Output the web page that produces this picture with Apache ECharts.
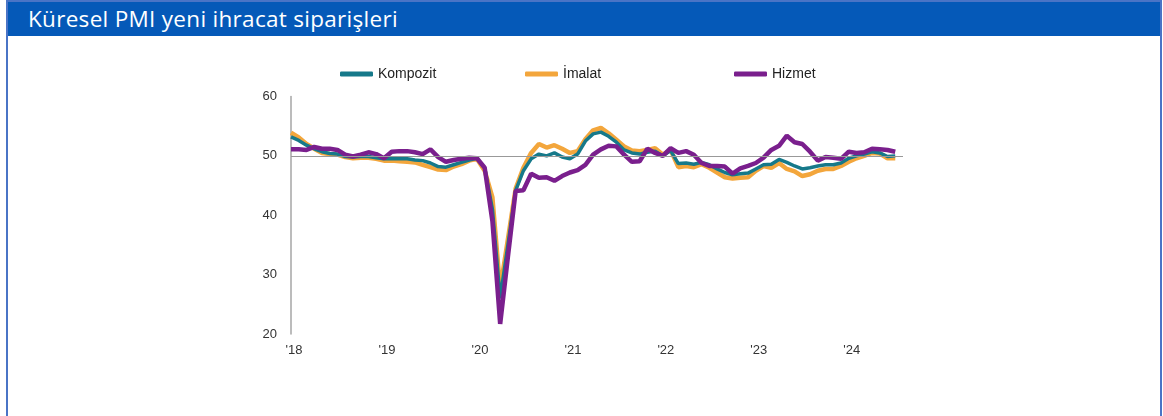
<!DOCTYPE html>
<html>
<head>
<meta charset="UTF-8">
<title>Küresel PMI yeni ihracat siparişleri</title>
<script src="https://cdn.jsdelivr.net/npm/echarts@6/dist/echarts.min.js"></script>
<style>
  body { margin: 0; background: #fff; }
  #frame { position: absolute; left: 6px; top: 0; width: 1152px; height: 430px;
           border: 2px solid #4a74c6; border-bottom: none; }
  #head { height: 34px; background: #0559b8; color: #fff; font-family: "Open Sans", "Noto Sans", sans-serif;
          font-size: 22.5px; letter-spacing: 0.3px; line-height: 34px; padding-left: 20px; }
  #view { position: absolute; left: 0; top: 0; width: 1163px; height: 416px; }
</style>
</head>
<body>
<div id="frame"><div id="head">Küresel PMI yeni ihracat siparişleri</div></div>
<div id="view"></div>
<script>
// aylar: Ocak 2018 - Temmuz 2024 (+ bir bos ay, 50 cizgisi icin)
var years = ['18', '19', '20', '21', '22', '23', '24'];
var months = [];
for (var y = 0; y < years.length; y++) {
    for (var m = 1; m <= 12; m++) months.push(years[y] + '-' + m);
}
months = months.slice(0, 80);

var kompozit = [
    53.2, 52.6, 51.8, 51.2, 50.7, 50.4, 50.3, 49.9, 49.8, 49.9, 49.9, 49.7,
    49.5, 49.5, 49.5, 49.5, 49.3, 49.2, 48.8, 48.2, 48.1, 48.5, 48.9, 49.3,
    49.6, 48.0, 41.0, 26.0, 35.0, 44.2, 47.5, 49.5, 50.3, 50.0, 50.5, 49.8,
    49.5, 50.3, 52.5, 53.7, 54.0, 53.3, 52.3, 51.0, 50.5, 50.3, 50.6, 50.8,
    50.0, 50.9, 48.7, 48.8, 48.6, 48.9, 48.5, 47.8, 47.2, 46.8, 47.0, 47.1,
    47.8, 48.5, 48.6, 49.4, 48.9, 48.3, 47.8, 48.0, 48.3, 48.5, 48.5, 48.8,
    49.6, 50.0, 50.3, 50.7, 50.5, 49.9, 50.0
];
var imalat = [
    53.9, 53.1, 52.0, 51.2, 50.5, 50.3, 50.2, 49.8, 49.6, 49.7, 49.7, 49.5,
    49.2, 49.2, 49.1, 49.0, 48.9, 48.5, 48.1, 47.7, 47.6, 48.2, 48.6, 49.2,
    49.5, 47.5, 43.0, 27.5, 36.0, 44.5, 48.0, 50.5, 52.0, 51.4, 51.8, 51.2,
    50.5, 50.8, 52.8, 54.3, 54.7, 53.8, 52.7, 51.6, 50.9, 50.8, 51.0, 51.3,
    50.2, 51.0, 48.1, 48.3, 48.1, 48.6, 48.0, 47.2, 46.4, 46.2, 46.3, 46.4,
    47.5, 48.3, 48.0, 48.8, 47.8, 47.4, 46.6, 46.9, 47.5, 47.8, 47.8, 48.3,
    49.0, 49.6, 50.0, 50.5, 50.4, 49.6, 49.6
];
var hizmet = [
    51.1, 51.1, 51.0, 51.5, 51.2, 51.2, 51.0, 50.2, 49.9, 50.2, 50.6, 50.3,
    49.6, 50.7, 50.8, 50.8, 50.6, 50.3, 51.1, 49.8, 49.0, 49.3, 49.5, 49.7,
    49.6, 48.0, 39.0, 21.7, 33.0, 44.1, 44.2, 47.0, 46.3, 46.4, 45.8, 46.6,
    47.2, 47.6, 48.5, 50.2, 51.1, 51.7, 51.6, 50.2, 49.0, 49.1, 51.2, 50.5,
    50.0, 51.3, 50.5, 50.8, 50.2, 48.8, 48.3, 48.3, 48.2, 47.0, 47.9, 48.3,
    48.8, 49.7, 51.0, 51.7, 53.4, 52.3, 52.0, 50.7, 49.2, 49.8, 49.7, 49.5,
    50.7, 50.5, 50.6, 51.2, 51.1, 51.0, 50.7
];

var colors = { kompozit: '#16798a', imalat: '#f3a63c', hizmet: '#7a1f8d' };

var myChart = echarts.init(document.getElementById('view'));

function legendFor(name, left) {
    return {
        data: [name], left: left, top: 62,
        icon: 'roundRect', itemWidth: 33, itemHeight: 5,
        textStyle: { fontFamily: 'Arial, Liberation Sans', fontSize: 14, color: '#222' },
        selectedMode: false
    };
}

var option = {
    animation: false,
    legend: [legendFor('Kompozit', 335), legendFor('İmalat', 520), legendFor('Hizmet', 729)],
    grid: { left: 291, top: 96.5, width: 612, height: 237.5 },
    xAxis: {
        type: 'category',
        boundaryGap: false,
        data: months,
        axisLine: { show: false },
        axisTick: { show: false },
        axisLabel: {
            interval: function (i, v) { return v.split('-')[1] === '1'; },
            formatter: function (v) { return "'" + v.split('-')[0]; },
            margin: 10,
            padding: [0, 0, 0, 6],
            fontFamily: 'Arial, Liberation Sans', fontSize: 13, color: '#333'
        },
        splitLine: { show: false }
    },
    yAxis: {
        type: 'value', min: 20, max: 60, interval: 10,
        axisLine: { show: true, lineStyle: { color: '#a6a6a6', width: 1.5 } },
        axisTick: { show: false },
        axisLabel: { margin: 14, fontFamily: 'Arial, Liberation Sans', fontSize: 13, color: '#333' },
        splitLine: { show: false }
    },
    series: [
        {
            name: 'İmalat', type: 'line', data: imalat, showSymbol: false, z: 2,
            lineStyle: { width: 4.5, color: colors.imalat }, itemStyle: { color: colors.imalat },
            markLine: {
                silent: true, symbol: 'none', label: { show: false },
                lineStyle: { color: '#999', width: 1.2, type: 'solid' },
                data: [{ yAxis: 50 }]
            }
        },
        {
            name: 'Kompozit', type: 'line', data: kompozit, showSymbol: false, z: 3,
            lineStyle: { width: 3.5, color: colors.kompozit }, itemStyle: { color: colors.kompozit }
        },
        {
            name: 'Hizmet', type: 'line', data: hizmet, showSymbol: false, z: 4,
            lineStyle: { width: 4.5, color: colors.hizmet }, itemStyle: { color: colors.hizmet }
        }
    ]
};
myChart.setOption(option);
</script>
</body>
</html>
